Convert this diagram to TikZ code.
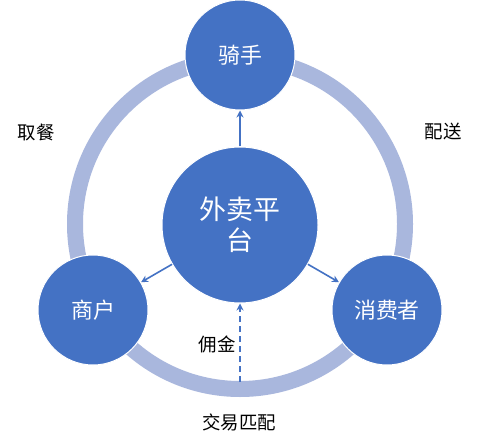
\documentclass[tikz,border=0pt]{standalone}
\usepackage{fontspec}
\setmainfont{Noto Sans CJK SC}
\usetikzlibrary{arrows.meta}
\definecolor{cblue}{HTML}{4472C4}
\definecolor{cring}{HTML}{A9B7DD}
\tikzset{
  actor/.style={circle, fill=cblue, draw=white, line width=1bp, minimum size=110bp, inner sep=0pt, text=white, font=\fontsize{22}{26}\selectfont},
  hub/.style={circle, fill=cblue, draw=white, line width=1bp, minimum size=156bp, inner sep=0pt, text=white, align=center, font=\fontsize{27}{31}\selectfont},
  lbl/.style={text=black, inner sep=0pt, font=\fontsize{18.5}{22}\selectfont},
  arr/.style={draw=cblue, line width=1.6bp, -{Stealth[length=7bp,width=7bp]}},
  ringline/.style={draw=cring, line width=16bp}
}
\begin{document}
\begin{tikzpicture}[x=1bp,y=-1bp]
\useasboundingbox (0,0) rectangle (500,436);
\fill[white] (0,0) rectangle (500,436);
\draw[ringline] (240,224) circle (165);
\node[actor] (rider) at (240,55) {骑手};
\node[actor] (shop) at (93,310) {商户};
\node[actor] (cons) at (387,310) {消费者};
\node[hub] (hub) at (240,225) {外卖平\\台};
\coordinate (dstart) at (240,382);
\draw[arr] (hub) -- (rider);
\draw[arr] (hub) -- (shop);
\draw[arr] (hub) -- (cons);
\draw[arr, dash pattern=on 6bp off 4bp] (dstart) -- (hub);
\node[lbl] (qucan) at (36,132) {取餐};
\node[lbl] (peisong) at (443,132) {配送};
\node[lbl] (yongjin) at (217,344) {佣金};
\node[lbl] (jiaoyi) at (239,422) {交易匹配};
\end{tikzpicture}
\end{document}
